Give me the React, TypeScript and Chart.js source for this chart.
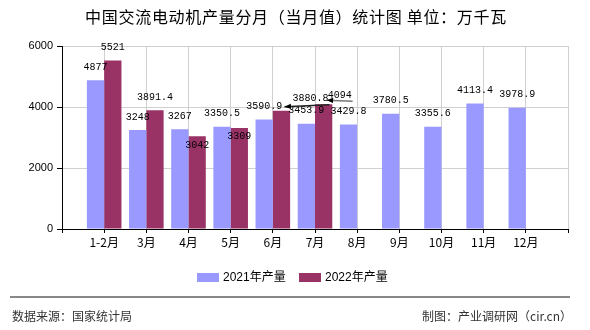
import React, { useEffect, useRef } from "react";
import { Chart, registerables } from "chart.js";

Chart.register(...registerables);

const TITLE = "中国交流电动机产量分月（当月值）统计图 单位：万千瓦";
const SOURCE_LEFT = "数据来源：国家统计局";
const SOURCE_RIGHT = "制图：产业调研网（cir.cn）";

const categories = ["", "1-2月", "3月", "4月", "5月", "6月", "7月", "8月", "9月", "10月", "11月", "12月", ""];
const series2021Name = "2021年产量";
const series2022Name = "2022年产量";
const values2021 = [null, 4877, 3248, 3267, 3350.5, 3590.9, 3453.9, 3429.8, 3780.5, 3355.6, 4113.4, 3978.9, null];
const values2022 = [null, 5521, 3891.4, 3042, 3309, 3880.8, 4094, null, null, null, null, null, null];
const yTicks = [0, 2000, 4000, 6000];

const color2021 = "#9999FF";
const color2022 = "#993366";

// label shifts (relative to default position above the bar), keyed by "dataset-index"
const labelShift: Record<string, { dx: number; dy: number; leader?: boolean }> = {
  "1-3": { dx: 0, dy: 22 },
  "1-4": { dx: 0, dy: 21 },
  "1-5": { dx: 29, dy: 1, leader: true },
  "1-6": { dx: 16, dy: 4, leader: true },
};

const CJK = '"Noto Sans CJK SC", sans-serif';

const decorPlugin = {
  id: "decor",
  afterDatasetsDraw(chart: any) {
    const ctx = chart.ctx;
    ctx.save();
    ctx.font = '10px "Liberation Mono", monospace';
    ctx.fillStyle = "#000";
    ctx.textAlign = "center";
    ctx.textBaseline = "middle";
    chart.data.datasets.forEach((ds: any, di: number) => {
      const meta = chart.getDatasetMeta(di);
      meta.data.forEach((el: any, i: number) => {
        const v = ds.data[i];
        if (v === null || v === undefined) return;
        const s = labelShift[`${di}-${i}`] || { dx: 0, dy: 0 };
        const text = String(v);
        const lx = el.x + s.dx;
        const ly = el.y - 13 + s.dy;
        if (s.leader) {
          const w = ctx.measureText(text).width;
          const sx = el.x + 3;
          const sy = el.y - 4;
          const ex = lx + w / 2 + 1;
          const ey = ly + 6;
          ctx.strokeStyle = di === 1 && i === 6 ? "#777" : "#222";
          ctx.lineWidth = 1.5;
          ctx.beginPath();
          ctx.moveTo(sx, sy);
          ctx.lineTo(ex, ey);
          ctx.stroke();
          const ang = Math.atan2(ey - sy, ex - sx);
          ctx.fillStyle = "#000";
          ctx.beginPath();
          ctx.moveTo(sx, sy);
          ctx.lineTo(sx + 7 * Math.cos(ang - 0.4), sy + 7 * Math.sin(ang - 0.4));
          ctx.lineTo(sx + 7 * Math.cos(ang + 0.4), sy + 7 * Math.sin(ang + 0.4));
          ctx.closePath();
          ctx.fill();
        }
        ctx.fillStyle = "#000";
        ctx.fillText(text, lx, ly);
      });
    });
    ctx.restore();
  },
  afterDraw(chart: any) {
    const ctx = chart.ctx;
    ctx.save();
    // title
    ctx.fillStyle = "#000";
    ctx.font = `16px ${CJK}`;
    ctx.textAlign = "center";
    ctx.textBaseline = "middle";
    (ctx as any).letterSpacing = "0.7px";
    ctx.fillText(TITLE, 296, 17);
    (ctx as any).letterSpacing = "0px";
    // legend
    const items = [
      { name: series2021Name, color: color2021, x: 197 },
      { name: series2022Name, color: color2022, x: 299 },
    ];
    ctx.font = `12px "Liberation Sans", ${CJK}`;
    ctx.textAlign = "left";
    items.forEach((it) => {
      ctx.fillStyle = it.color;
      ctx.fillRect(it.x, 273, 22, 9);
      ctx.fillStyle = "#000";
      ctx.fillText(it.name, it.x + 26, 277.5);
    });
    // footer line
    ctx.strokeStyle = "#888";
    ctx.lineWidth = 2;
    ctx.beginPath();
    ctx.moveTo(10, 297);
    ctx.lineTo(570, 297);
    ctx.stroke();
    ctx.fillStyle = "#333";
    ctx.font = `12px ${CJK}`;
    ctx.textAlign = "left";
    ctx.fillText(SOURCE_LEFT, 12, 316);
    ctx.textAlign = "right";
    ctx.fillText(SOURCE_RIGHT, 572, 316);
    ctx.restore();
  },
};

export default function App() {
  const ref = useRef<HTMLCanvasElement | null>(null);
  useEffect(() => {
    document.body.style.margin = "0";
    const canvas = ref.current;
    if (!canvas) return;
    const chart = new Chart(canvas, {
      type: "bar",
      data: {
        labels: categories,
        datasets: [
          { label: series2021Name, data: values2021 as any, backgroundColor: color2021, borderWidth: 0 },
          { label: series2022Name, data: values2022 as any, backgroundColor: color2022, borderWidth: 0 },
        ],
      },
      options: {
        animation: false,
        responsive: false,
        maintainAspectRatio: false,
        devicePixelRatio: 1,
        layout: { padding: { left: 0, right: 22, top: 46, bottom: 0 } },
        plugins: {
          legend: { display: false },
          title: { display: false },
          tooltip: { enabled: false },
        },
        datasets: {
          bar: { categoryPercentage: 0.82, barPercentage: 1 },
        } as any,
        scales: {
          x: {
            offset: false,
            grid: {
              offset: false,
              color: "#d0d0d0",
              tickColor: "#000",
              tickLength: 4,
              drawOnChartArea: true,
            },
            border: { color: "#000", width: 1 },
            ticks: {
              color: "#000",
              font: { family: '"Noto Sans CJK SC", sans-serif', size: 12 },
              padding: 2,
              maxRotation: 0,
              autoSkip: false,
            },
            afterFit: (scale: any) => {
              scale.height = 101;
            },
          },
          y: {
            min: 0,
            max: 6000,
            afterBuildTicks: (scale: any) => {
              scale.ticks = yTicks.map((v) => ({ value: v }));
            },
            grid: { color: "#d0d0d0", tickColor: "#000", tickLength: 5 },
            border: { color: "#000", width: 1 },
            ticks: {
              color: "#000",
              font: { family: '"Liberation Sans", sans-serif', size: 11 },
              padding: 4,
              callback: (v: any) => String(v),
            },
            afterFit: (scale: any) => {
              scale.width = 62;
            },
          },
        },
      },
      plugins: [decorPlugin],
    });
    return () => chart.destroy();
  }, []);
  return (
    <div style={{ width: 590, height: 330, background: "#fff" }}>
      <canvas ref={ref} width={590} height={330} style={{ width: 590, height: 330, display: "block" }} />
    </div>
  );
}
